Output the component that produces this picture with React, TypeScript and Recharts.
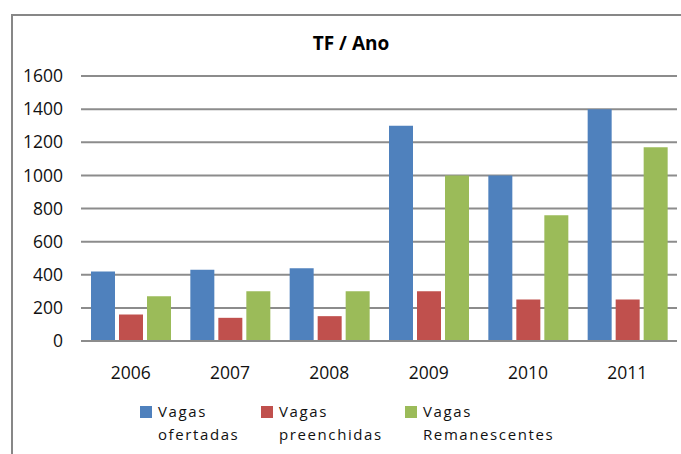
import React from 'react';
import { BarChart, Bar, XAxis, YAxis, CartesianGrid, Legend } from 'recharts';

const years = ['2006', '2007', '2008', '2009', '2010', '2011'];
const ofertadas = [420, 430, 440, 1300, 1000, 1400];
const preenchidas = [160, 140, 150, 300, 250, 250];
const remanescentes = [270, 300, 300, 1000, 760, 1170];
const yTicks = [0, 200, 400, 600, 800, 1000, 1200, 1400, 1600];

const seriesInfo = [
  { key: 'ofertadas', line1: 'Vagas', line2: 'ofertadas', color: '#4F81BD' },
  { key: 'preenchidas', line1: 'Vagas', line2: 'preenchidas', color: '#C0504D' },
  { key: 'remanescentes', line1: 'Vagas', line2: 'Remanescentes', color: '#9BBB59' },
];

const data = years.map((y, i) => ({
  year: y,
  ofertadas: ofertadas[i],
  preenchidas: preenchidas[i],
  remanescentes: remanescentes[i],
}));

const FONT = '"Open Sans", sans-serif';

const LegendContent = () => (
  <div style={{ position: 'relative', width: 681, height: 50, fontFamily: FONT, fontSize: 15, color: '#111', letterSpacing: 1.6 }}>
    {seriesInfo.map((s, i) => {
      const left = [140, 261, 405][i];
      return (
        <div key={s.key} style={{ position: 'absolute', left, top: 0, display: 'flex' }}>
          <div style={{ width: 12, height: 12, background: s.color, marginTop: 6, marginRight: 6 }} />
          <div style={{ lineHeight: '23px' }}>
            <div>{s.line1}</div>
            <div>{s.line2}</div>
          </div>
        </div>
      );
    })}
  </div>
);

export default function App() {
  return (
    <div style={{ position: 'absolute', left: 0, top: 0, width: 681, height: 454, overflow: 'hidden', background: '#fff' }}>
      <div style={{ position: 'absolute', left: 11, top: 14, width: 800, height: 600, border: '2px solid #878787', boxSizing: 'border-box' }} />
      <div style={{ position: 'absolute', left: 0, top: 0 }}>
        <BarChart
          width={681}
          height={454}
          data={data}
          margin={{ top: 76, right: 4, left: 0, bottom: 83 }}
          barGap={4}
          barSize={24}
        >
          <text x={351} y={50} textAnchor="middle" style={{ fontFamily: FONT, fontWeight: 700, fontSize: 19, fill: '#000' }}>
            TF / Ano
          </text>
          <CartesianGrid vertical={false} stroke="#8c8c8c" strokeWidth={2} />
          <XAxis
            dataKey="year"
            height={30}
            tickSize={0}
            tickMargin={26}
            axisLine={{ stroke: '#8c8c8c', strokeWidth: 2 }}
            tickLine={false}
            tick={{ fontFamily: FONT, fontSize: 17.5, fill: '#111' }}
          />
          <YAxis
            width={81}
            domain={[0, 1600]}
            ticks={yTicks}
            interval={0}
            tickSize={0}
            tickMargin={18}
            axisLine={false}
            tickLine={false}
            tick={{ fontFamily: FONT, fontSize: 17.5, fill: '#111' }}
          />
          <Legend
            layout="horizontal"
            verticalAlign="middle"
            align="center"
            wrapperStyle={{ top: 400, left: 0, width: 681 }}
            content={<LegendContent />}
          />
          <Bar dataKey="ofertadas" fill="#4F81BD" isAnimationActive={false} />
          <Bar dataKey="preenchidas" fill="#C0504D" isAnimationActive={false} />
          <Bar dataKey="remanescentes" fill="#9BBB59" isAnimationActive={false} />
        </BarChart>
      </div>
    </div>
  );
}
